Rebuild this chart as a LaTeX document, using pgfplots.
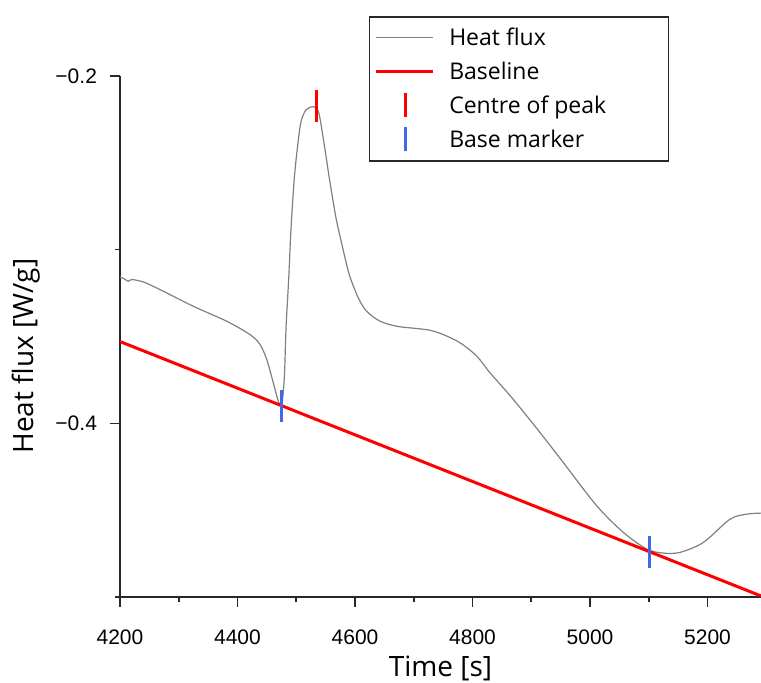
\documentclass[border=0pt]{standalone}
\usepackage{fontspec}
\setmainfont{Open Sans}
\newfontfamily\tickfont{Liberation Sans}
\usepackage{pgfplots}
\pgfplotsset{compat=1.18}
\definecolor{fluxgray}{RGB}{128,128,128}
\definecolor{markblue}{RGB}{65,105,225}
\definecolor{axisgray}{RGB}{40,40,40}

\begin{document}
\begin{tikzpicture}
\begin{axis}[
  width=320.5pt, height=260.5pt, scale only axis,
  xmin=4200, xmax=5291, ymin=-0.5, ymax=-0.2,
  axis lines=left,
  axis line style={-, line width=1pt, axisgray},
  tick align=outside,
  major tick length=5pt, minor tick length=2.5pt,
  every tick/.style={axisgray, line width=0.8pt},
  xtick={4200,4400,4600,4800,5000,5200},
  xticklabels={4200,4400,4600,4800,5000,5200},
  minor xtick={4300,4500,4700,4900,5100},
  ytick={-0.4,-0.2}, yticklabels={−0.4,−0.2},
  minor ytick={-0.5,-0.3},
  tick label style={font=\tickfont\fontsize{10.5}{12}\selectfont},
  xticklabel style={yshift=-8pt},
  yticklabel style={xshift=-3pt},
  xlabel={Time [s]}, ylabel={Heat flux [W/g]},
  label style={font=\fontsize{14}{16}\selectfont},
  xlabel style={at={(axis description cs:0.5,0)}, anchor=base, yshift=-39.8pt},
  ylabel style={at={(axis description cs:-0.1466,0.4626)}, anchor=center},
  clip=false,
  legend cell align=left,
  legend image code/.code={\draw[#1] (0pt,0pt) -- (28.5pt,0pt);},
  legend style={at={(rel axis cs:0.8565,1.115)}, anchor=north east,
    draw=axisgray, line width=0.75pt, inner xsep=2.5pt, inner ysep=4pt,
    column sep=7.5pt, row sep=3.67pt,
    font=\fontsize{11.5}{13}\selectfont,
    nodes={inner sep=0pt, text height=10.5pt, text depth=2.5pt}},
]
% measured heat flux
\addplot[fluxgray, line width=0.6pt, smooth, tension=0.5] coordinates {
  (4200,-0.3158) (4206.8,-0.3167) (4214.1,-0.3182) (4219.9,-0.3172)
  (4239.7,-0.3186) (4268.1,-0.3230) (4324.8,-0.3326) (4381.6,-0.3412)
  (4421.3,-0.3489) (4438.3,-0.3546) (4449.7,-0.3632) (4460.9,-0.3766)
  (4469.4,-0.3872) (4475.2,-0.3897) (4479.7,-0.3737) (4482.6,-0.3450)
  (4487.2,-0.3163) (4491.1,-0.2875) (4496.7,-0.2588) (4502.5,-0.2397)
  (4508.1,-0.2263) (4516.6,-0.2195) (4528.0,-0.2176) (4533.6,-0.2182)
  (4539.2,-0.2224) (4547.7,-0.2397) (4556.3,-0.2588) (4567.7,-0.2818)
  (4579.1,-0.2990) (4590.3,-0.3144) (4605.6,-0.3278) (4619.9,-0.3355)
  (4642.6,-0.3412) (4671.0,-0.3441) (4705.0,-0.3454) (4727.7,-0.3464)
  (4750.3,-0.3489) (4778.7,-0.3536) (4807.2,-0.3613) (4829.8,-0.3709)
  (4869.4,-0.3862) (4914.9,-0.4053) (4954.6,-0.4226) (5011.4,-0.4475)
  (5056.7,-0.4628) (5096.5,-0.4724) (5124.8,-0.4747) (5153.2,-0.4743)
  (5192.8,-0.4686) (5238.3,-0.4552) (5266.7,-0.4523) (5291,-0.4517)
};
\addlegendentry{\makebox[107pt][l]{Heat flux}}
% baseline through the two base markers
\addplot[red, line width=1.5pt] coordinates {(4200,-0.3529) (5291,-0.4994)};
\addlegendentry{\makebox[107pt][l]{Baseline}}
\addplot[only marks, mark=|, mark size=8pt, mark options={red, line width=1.5pt}, forget plot]
  coordinates {(4533.6,-0.2175)};
\addplot[only marks, mark=|, mark size=8pt, mark options={markblue, line width=1.5pt}, forget plot]
  coordinates {(4475.2,-0.3898) (5101,-0.4739)};
\addlegendimage{legend image code/.code={\path[draw=none] (0pt,0pt) -- (28.5pt,0pt);
  \draw[red, line width=1.5pt] (15pt,-6pt) -- (15pt,6pt);}}
\addlegendentry{\makebox[107pt][l]{Centre of peak}}
\addlegendimage{legend image code/.code={\path[draw=none] (0pt,0pt) -- (28.5pt,0pt);
  \draw[markblue, line width=1.5pt] (15pt,-6pt) -- (15pt,6pt);}}
\addlegendentry{\makebox[107pt][l]{Base marker}}
\end{axis}
\pgfresetboundingbox
\path (-60pt,-42.5pt) rectangle (320.5pt,298.5pt);
\end{tikzpicture}
\end{document}
